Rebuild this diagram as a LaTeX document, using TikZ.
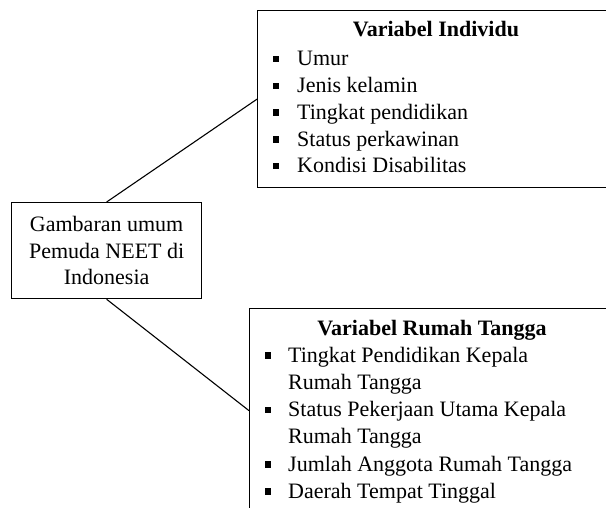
\documentclass[tikz,border=0pt]{standalone}
\usepackage{fontspec}
\setmainfont{Liberation Serif}
\usepackage{tikz}

\tikzset{
  kotak/.style={draw, line width=1.3pt, inner sep=0pt, anchor=north west},
  teks/.style={anchor=base west, inner sep=0pt, font=\fontsize{22}{26.7}\selectfont},
  judul/.style={anchor=base, inner sep=0pt, font=\fontsize{22}{26.7}\selectfont\bfseries},
  garis/.style={line width=1.1pt},
}

\begin{document}
\begin{tikzpicture}[x=1pt,y=-1pt]

\useasboundingbox (0,0) rectangle (606,508);
\clip (0,0) rectangle (606,508);

% kotak tengah
\node[kotak, minimum width=190pt, minimum height=96pt, align=center,
  font=\fontsize{22}{26.7}\selectfont] (umum) at (11,202)
  {Gambaran umum\\Pemuda NEET di\\Indonesia};

% variabel individu
\node[kotak, minimum width=360pt, minimum height=177pt] (individu) at (257,10) {};
\node[judul] (jdlindividu) at (436,37) {Variabel Individu};

\foreach \t [count=\i] in {Umur, Jenis kelamin, Tingkat pendidikan, Status perkawinan, Kondisi Disabilitas}{
	\node[teks] (ind\i) at (297,{39.25+\i*26.75}) {\t};
	\fill (273,{39.25+\i*26.75-10}) rectangle ++(5.5,6.5);
}

% variabel rumah tangga
\node[kotak, minimum width=368pt, minimum height=204pt] (rumah) at (249,308) {};
\node[judul] (jdlrumah) at (432,335) {Variabel Rumah Tangga};

\foreach \b/\t [count=\i] in {1/Tingkat Pendidikan Kepala, 0/Rumah Tangga, 1/Status Pekerjaan Utama Kepala, 0/Rumah Tangga, 1/Jumlah Anggota Rumah Tangga, 1/Daerah Tempat Tinggal}{
	\node[teks] (rt\i) at (288,{335+\i*27.2}) {\t};
	\ifnum\b=1
		\fill (265,{335+\i*27.2-10}) rectangle ++(5.5,6.5);
	\fi
}

\draw[garis] (umum.north) -- (individu.west);
\draw[garis] (umum.south) -- (rumah.west);

\end{tikzpicture}
\end{document}
